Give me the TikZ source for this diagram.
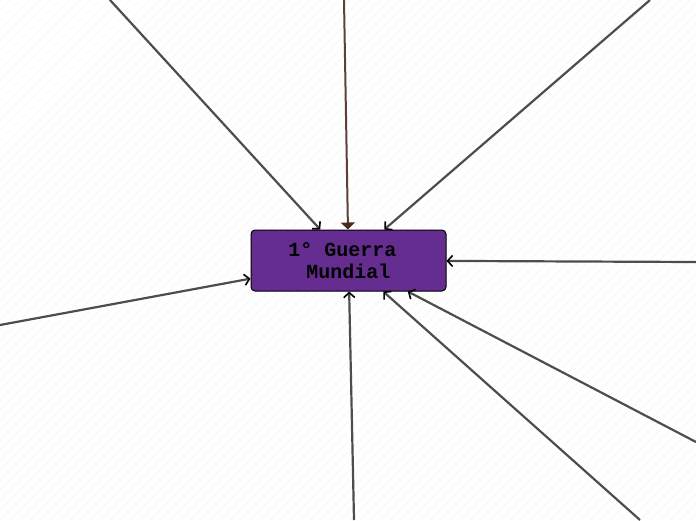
\documentclass[tikz,border=0pt]{standalone}
\usepackage{fontspec}
\setmonofont{Liberation Mono}
\usetikzlibrary{arrows.meta}
\definecolor{guerrapurple}{HTML}{662D91}
\definecolor{linkgray}{HTML}{4D4D4D}
\definecolor{linkbrown}{HTML}{5D4037}
\definecolor{tipbrown}{HTML}{4A2A1E}

\begin{document}
\begin{tikzpicture}[x=1pt, y=-1pt,
    stripe/.style={gray!8, line width=0.7pt},
    topic/.style={draw=black, fill=guerrapurple, rounded corners=4pt, line width=1pt,
        minimum width=195pt, minimum height=61pt, inner sep=0pt, align=center,
        font=\ttfamily\bfseries\fontsize{20}{22}\selectfont},
    link/.style={linkgray, line width=2.2pt,
        -{Straight Barb[length=5pt, width=11pt, line width=1.6pt, color=black]}},
    mainlink/.style={linkbrown, line width=2pt,
        -{Triangle[length=7pt, width=14pt, color=tipbrown]}}]
    \useasboundingbox (0,0) rectangle (696,520);
    % background stripes
    \begin{scope}
        \clip (0,0) rectangle (696,520);
        \foreach \i in {-520,-510,...,700}
            \draw[stripe] (\i,520) -- ++(520,-520);
    \end{scope}
    \node[topic] (guerra) at (348.5,260.5) {1° Guerra\hphantom{x}\\Mundial};
    % loose ends
    \coordinate (topleft) at (110,0);
    \coordinate (top) at (344,0);
    \coordinate (topright) at (650,0);
    \coordinate (right) at (696,262);
    \coordinate (lowright) at (696,442);
    \coordinate (bottomright) at (640,520);
    \coordinate (bottom) at (354,520);
    \coordinate (left) at (0,325);
    \draw[mainlink] (top) -- (guerra);
    \foreach \src in {topleft,topright,right,lowright,bottomright,bottom,left}
        \draw[link] (\src) -- (guerra);
\end{tikzpicture}
\end{document}
